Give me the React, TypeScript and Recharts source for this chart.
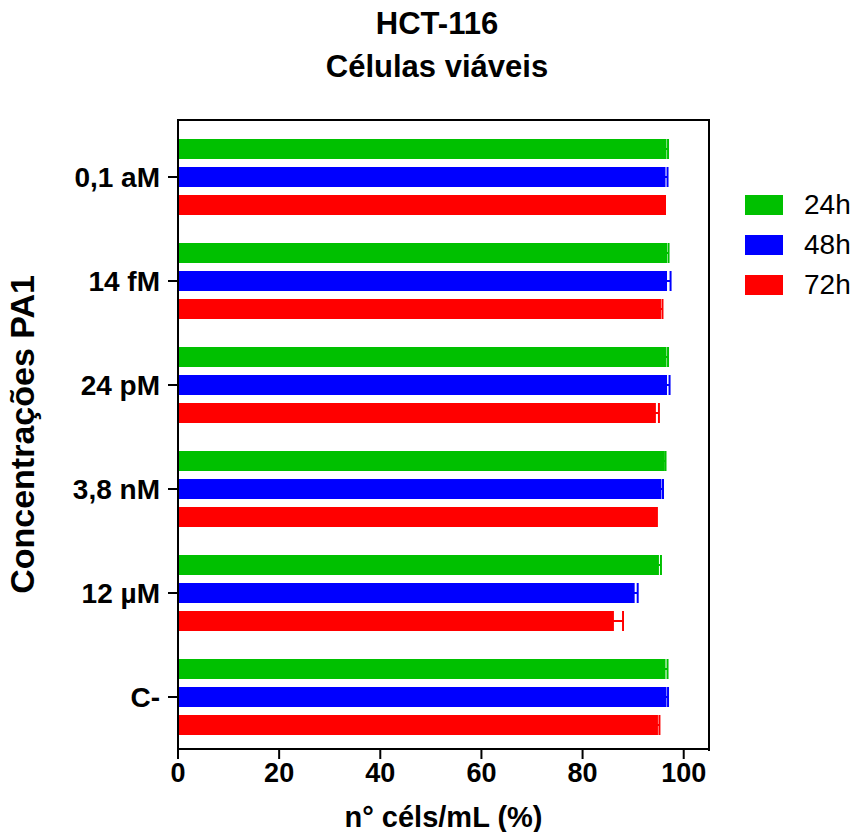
import React from 'react';
import {
  BarChart,
  Bar,
  XAxis,
  YAxis,
  ErrorBar,
} from 'recharts';

// Concentrations, top to bottom as drawn
const concentrations = ['0,1 aM', '14 fM', '24 pM', '3,8 nM', '12 µM', 'C-'];

// Viable cells (%) per time point, with error (SEM)
const viable24h = [96.6, 96.7, 96.6, 96.2, 95.1, 96.4];
const err24h = [0.3, 0.3, 0.3, 0.2, 0.4, 0.4];
const viable48h = [96.4, 96.7, 96.7, 95.6, 90.3, 96.6];
const err48h = [0.4, 0.7, 0.5, 0.3, 0.6, 0.3];
const viable72h = [96.1, 95.5, 94.5, 94.5, 86.2, 94.9];
const err72h = [0.2, 0.3, 0.6, 0.2, 1.8, 0.3];

const xTicks = [0, 20, 40, 60, 80, 100];

const series = [
  { key: 'h24', err: 'e24', name: '24h', color: '#00C000' },
  { key: 'h48', err: 'e48', name: '48h', color: '#0000FF' },
  { key: 'h72', err: 'e72', name: '72h', color: '#FF0000' },
];

const FONT = '"Liberation Sans", Arial, sans-serif';

const data = concentrations.map((c, i) => ({
  name: c,
  h24: viable24h[i],
  e24: err24h[i],
  h48: viable48h[i],
  e48: err48h[i],
  h72: viable72h[i],
  e72: err72h[i],
}));

function LegendBox() {
  return (
    <div style={{ position: 'absolute', left: 745, top: 185, fontFamily: FONT }}>
      {series.map((s) => (
        <div
          key={s.key}
          style={{ display: 'flex', alignItems: 'center', height: 40 }}
        >
          <div style={{ width: 38, height: 20, background: s.color }} />
          <span style={{ fontSize: 28, marginLeft: 21, color: '#000' }}>{s.name}</span>
        </div>
      ))}
    </div>
  );
}

export default function App() {
  return (
    <div style={{ position: 'absolute', left: 0, top: 0, width: 856, height: 832, background: '#fff', fontFamily: FONT }}>
      <div
        style={{
          position: 'absolute',
          left: 0,
          top: 2,
          width: 874,
          textAlign: 'center',
          fontWeight: 'bold',
          fontSize: 31,
          lineHeight: '43px',
          color: '#000',
        }}
      >
        <div>HCT-116</div>
        <div>Células viáveis</div>
      </div>
      <BarChart
        width={856}
        height={832}
        data={data}
        layout="vertical"
        margin={{ top: 120, right: 147, bottom: 0, left: 0 }}
        barSize={20}
        barGap={8}
        style={{ position: 'absolute', left: 0, top: 0 }}
      >
        <XAxis
          type="number"
          domain={[0, 105]}
          ticks={xTicks}
          allowDataOverflow
          height={83}
          stroke="#000"
          strokeWidth={2}
          tickSize={10}
          tickMargin={4}
          tick={{ fill: '#000', fontSize: 27, fontWeight: 'bold', fontFamily: FONT }}
          label={{
            value: 'n° céls/mL (%)',
            position: 'insideBottom',
            offset: 5,
            fill: '#000',
            fontSize: 29,
            fontWeight: 'bold',
            fontFamily: FONT,
          }}
        />
        <YAxis
          type="category"
          dataKey="name"
          width={178}
          padding={{ top: 5 }}
          stroke="#000"
          strokeWidth={2}
          tickSize={10}
          tickMargin={8}
          tick={{ fill: '#000', fontSize: 28, fontWeight: 'bold', fontFamily: FONT }}
          label={{
            value: 'Concentrações PA1',
            angle: -90,
            position: 'insideLeft',
            offset: 22,
            style: { textAnchor: 'middle' },
            fill: '#000',
            fontSize: 34,
            fontWeight: 'bold',
            fontFamily: FONT,
          }}
        />
        {series.map((s) => (
          <Bar
            key={s.key}
            dataKey={s.key}
            name={s.name}
            fill={s.color}
            isAnimationActive={false}
          >
            <ErrorBar
              dataKey={s.err}
              direction="x"
              width={10}
              stroke={s.color}
              strokeWidth={2}
              isAnimationActive={false}
            />
          </Bar>
        ))}
      </BarChart>
      {/* top and right frame lines of the plot box */}
      <div
        style={{
          position: 'absolute',
          left: 177,
          top: 119,
          width: 531,
          height: 630,
          borderTop: '2px solid #000',
          borderRight: '2px solid #000',
          pointerEvents: 'none',
        }}
      />
      <LegendBox />
    </div>
  );
}
